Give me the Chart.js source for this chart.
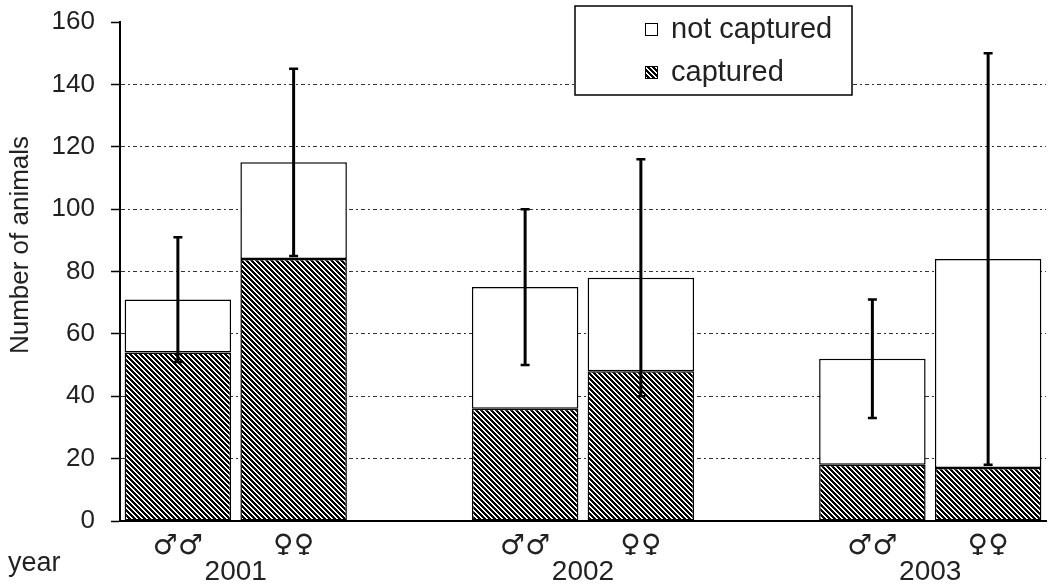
<!DOCTYPE html>
<html>
<head>
<meta charset="utf-8">
<script src="https://cdn.jsdelivr.net/npm/chart.js@4"></script>
<style>
  body { margin: 0; background: #fff; }
</style>
</head>
<body>
<canvas id="animalsChart" width="1048" height="585"></canvas>
<script>
const categories = ["♂♂", "♀♀", "", "♂♂", "♀♀", "", "♂♂", "♀♀"];
const years = ["2001", "2002", "2003"];
const yearPositions = [0.5, 3.5, 6.5];
const captured = [54, 84, null, 36, 48, null, 18, 17];
const notCaptured = [17, 31, null, 39, 30, null, 34, 67];
const errors = [20, 30, null, 25, 38, null, 19, 66];
const yTicks = [0, 20, 40, 60, 80, 100, 120, 140, 160];
const yTitle = "Number of animals";

const FONT = "'Liberation Sans', Arial, sans-serif";
const TEXT = "#222";

const canvas = document.getElementById("animalsChart");
const ctx = canvas.getContext("2d");

// diagonal hatch like the old excel fill
function makeHatch() {
      const tile = document.createElement("canvas");
      tile.width = 5;
      tile.height = 5;
      const g = tile.getContext("2d");
      g.fillStyle = "#fff";
      g.fillRect(0, 0, 5, 5);
      g.fillStyle = "#000";
      for (let y = 0; y < 5; y++) {
            for (let x = 0; x < 5; x++) {
                  if ((((x - y) % 5) + 5) % 5 < 3) g.fillRect(x, y, 1, 1);
            }
      }
      return ctx.createPattern(tile, "repeat");
}

const hatch = makeHatch();

const errorBars = {
      id: "errorBars",
      afterDatasetsDraw(chart) {
            const x = chart.scales.x;
            const y = chart.scales.y;
            const c = chart.ctx;
            c.save();
            c.setLineDash([]);
            c.strokeStyle = "#000";
            errors.forEach((err, i) => {
                  if (err == null) return;
                  const total = captured[i] + notCaptured[i];
                  const px = x.getPixelForValue(i);
                  const top = y.getPixelForValue(total + err);
                  const bot = y.getPixelForValue(total - err);
                  c.lineWidth = 3;
                  c.beginPath();
                  c.moveTo(px, top);
                  c.lineTo(px, bot);
                  c.stroke();
                  c.lineWidth = 2.5;
                  c.beginPath();
                  c.moveTo(px - 4.5, top);
                  c.lineTo(px + 4.5, top);
                  c.moveTo(px - 4.5, bot);
                  c.lineTo(px + 4.5, bot);
                  c.stroke();
            });
            c.restore();
      },
};

const boxLegend = {
      id: "boxLegend",
      afterDraw(chart) {
            const c = chart.ctx;
            const area = chart.chartArea;
            const left = area.left + 455;
            const top = area.top - 16;
            c.save();
            c.setLineDash([]);
            c.fillStyle = "#fff";
            c.fillRect(left, top, 277, 89);
            c.strokeStyle = "#000";
            c.lineWidth = 1.5;
            c.strokeRect(left, top, 277, 89);
            const items = chart.data.datasets.slice().reverse();
            c.font = "29px " + FONT;
            c.textBaseline = "middle";
            items.forEach((ds, k) => {
                  const cy = top + 24 + k * 43;
                  c.fillStyle = ds.backgroundColor;
                  c.fillRect(left + 70, cy - 7, 13, 13);
                  c.lineWidth = 1;
                  c.strokeRect(left + 70.5, cy - 6.5, 12, 12);
                  c.fillStyle = TEXT;
                  c.fillText(ds.label, left + 96, cy);
            });

            // axis caption at the far left, on the year row
            const ys = chart.scales.years;
            c.font = "27px " + FONT;
            c.textBaseline = "alphabetic";
            c.fillText("year", 8, ys.top + 16);

            // y title sits a bit above the middle in the original
            c.translate(21, area.top + 223);
            c.rotate(-Math.PI / 2);
            c.font = "26px " + FONT;
            c.textAlign = "center";
            c.textBaseline = "middle";
            c.fillText(yTitle, 0, 0);
            c.restore();
      },
};

new Chart(canvas, {
      type: "bar",
      data: {
            labels: categories,
            datasets: [
                  {
                        label: "captured",
                        data: captured,
                        backgroundColor: hatch,
                        borderColor: "#000",
                        borderWidth: 1.5,
                        borderSkipped: false,
                        stack: "animals",
                  },
                  {
                        label: "not captured",
                        data: notCaptured,
                        backgroundColor: "#fff",
                        borderColor: "#000",
                        borderWidth: 1.5,
                        borderSkipped: false,
                        stack: "animals",
                  },
            ],
      },
      options: {
            responsive: false,
            animation: false,
            layout: { padding: { top: 22, right: 2, left: 0, bottom: 0 } },
            datasets: {
                  bar: { categoryPercentage: 1, barPercentage: 0.92 },
            },
            plugins: {
                  legend: { display: false },
                  tooltip: { enabled: false },
            },
            scales: {
                  x: {
                        stacked: true,
                        weight: 0,
                        grid: { display: false, drawTicks: false },
                        border: { display: true, color: "#000", width: 2 },
                        ticks: {
                              padding: 9,
                              color: TEXT,
                              font: { family: "'DejaVu Sans', sans-serif", size: 28 },
                              maxRotation: 0,
                              autoSkip: false,
                        },
                        afterFit: (s) => {
                              s.height = 34;
                        },
                  },
                  years: {
                        type: "linear",
                        position: "bottom",
                        weight: 1,
                        bounds: "data",
                        offset: false,
                        min: -0.5,
                        max: 7.5,
                        grid: { display: false, drawTicks: false },
                        border: { display: false },
                        afterBuildTicks: (s) => {
                              s.ticks = yearPositions.map((v) => ({ value: v }));
                        },
                        ticks: {
                              autoSkip: false,
                              maxRotation: 0,
                              padding: 0,
                              color: TEXT,
                              font: { family: FONT, size: 28 },
                              callback: (v, i) => years[i],
                        },
                        afterFit: (s) => {
                              s.height = 30;
                              s.paddingLeft = 0;
                              s.paddingRight = 0;
                        },
                  },
                  y: {
                        stacked: true,
                        min: 0,
                        max: 160,
                        afterBuildTicks: (s) => {
                              s.ticks = yTicks.map((v) => ({ value: v }));
                        },
                        grid: {
                              color: (c) =>
                                    c.tick && (c.tick.value === 0 || c.tick.value === 160)
                                          ? "rgba(0,0,0,0)"
                                          : "#333",
                              lineWidth: 1,
                              tickColor: "#000",
                              tickWidth: 1.5,
                              tickLength: 9,
                              tickBorderDash: [],
                        },
                        border: { display: true, color: "#000", width: 2, dash: [4, 3, 2, 3] },
                        ticks: {
                              padding: 16,
                              color: TEXT,
                              font: { family: FONT, size: 26 },
                        },
                        afterFit: (s) => {
                              s.width = 120;
                              s.paddingTop = 0;
                              s.paddingBottom = 0;
                        },
                  },
            },
      },
      plugins: [errorBars, boxLegend],
});
</script>
</body>
</html>
